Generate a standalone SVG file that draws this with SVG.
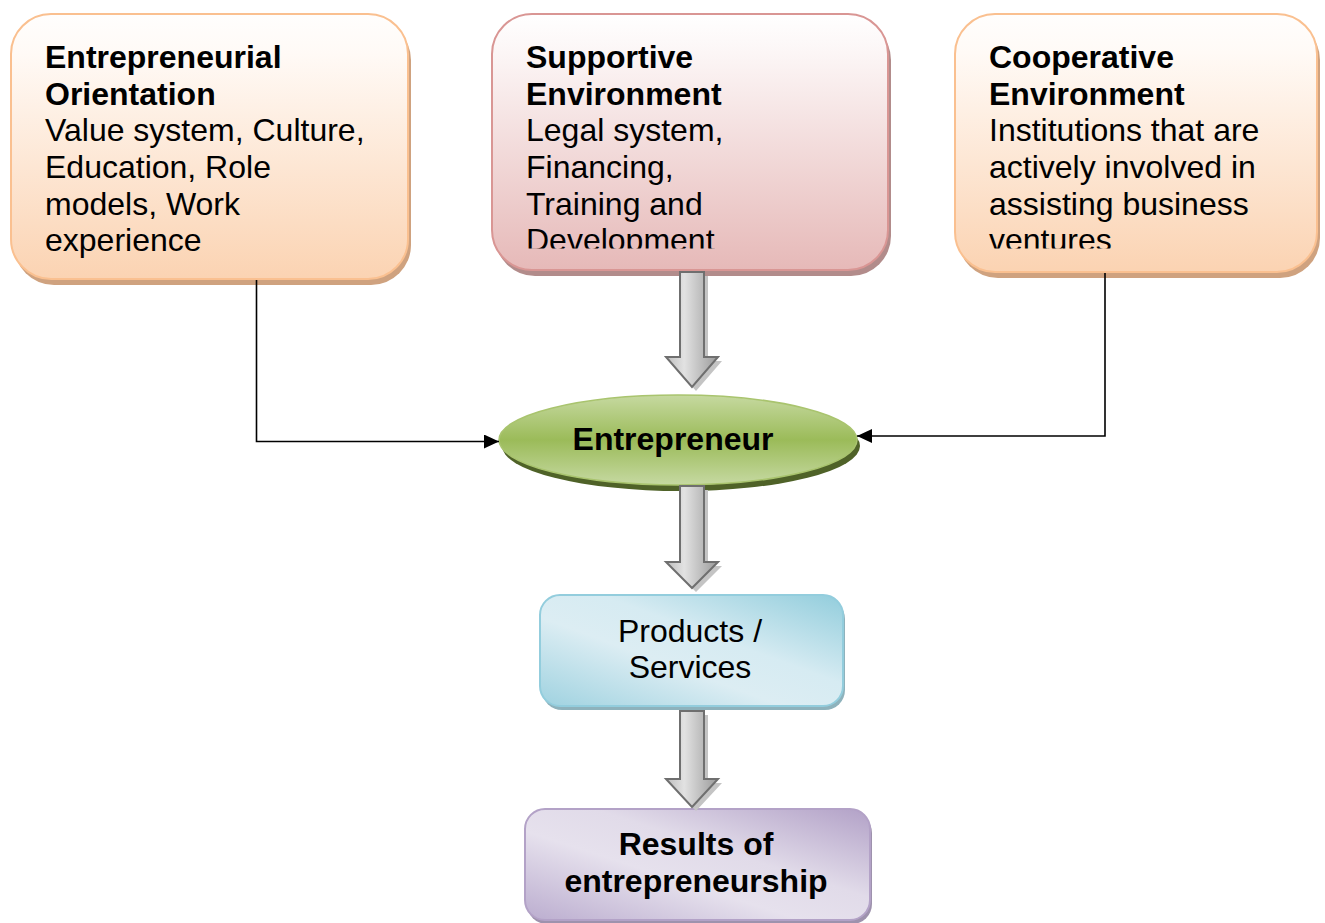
<svg xmlns="http://www.w3.org/2000/svg" width="1325" height="923" viewBox="0 0 1325 923">
  <style>
    text { font-family: "Liberation Sans", Arial, sans-serif; font-size: 32px; fill: #000; }
    .b { font-weight: bold; }
    .mid { text-anchor: middle; }
    .line { fill: none; stroke: #000; stroke-width: 1.6; }
    .block { fill: url(#gGray); stroke: #6f6f6f; stroke-width: 2; stroke-linejoin: miter; }
    .blockSh { fill: #c4c4c4; }
  </style>
  <defs>
    <linearGradient id="gOrange" x1="0" y1="0" x2="0" y2="1">
      <stop offset="0" stop-color="#fffefd"/>
      <stop offset="0.15" stop-color="#fffaf6"/>
      <stop offset="1" stop-color="#fbd3b2"/>
    </linearGradient>
    <linearGradient id="gPink" x1="0" y1="0" x2="0" y2="1">
      <stop offset="0" stop-color="#ffffff"/>
      <stop offset="0.15" stop-color="#fcf6f6"/>
      <stop offset="1" stop-color="#e6b9b8"/>
    </linearGradient>
    <linearGradient id="gGreen" x1="0" y1="0" x2="0" y2="1">
      <stop offset="0" stop-color="#c6d9a0"/>
      <stop offset="0.5" stop-color="#9bbb59"/>
      <stop offset="1" stop-color="#c6d9a2"/>
    </linearGradient>
    <linearGradient id="gBlue" x1="0" y1="1" x2="1" y2="0">
      <stop offset="0" stop-color="#9fd2e0"/>
      <stop offset="0.4" stop-color="#dcedf3"/>
      <stop offset="0.6" stop-color="#d6ebf2"/>
      <stop offset="1" stop-color="#92cddc"/>
    </linearGradient>
    <linearGradient id="gPurple" x1="0" y1="1" x2="1" y2="0">
      <stop offset="0" stop-color="#bbadcf"/>
      <stop offset="0.4" stop-color="#e6e1ed"/>
      <stop offset="0.6" stop-color="#e1dbe9"/>
      <stop offset="1" stop-color="#b2a1c7"/>
    </linearGradient>
    <linearGradient id="gGray" x1="0" y1="0" x2="1" y2="0">
      <stop offset="0" stop-color="#bdbdbd"/>
      <stop offset="0.35" stop-color="#e2e2e2"/>
      <stop offset="1" stop-color="#9a9a9a"/>
    </linearGradient>
    <clipPath id="clipText">
      <rect x="0" y="0" width="1325" height="248.5"/>
    </clipPath>
    <marker id="arr" markerUnits="userSpaceOnUse" markerWidth="16" markerHeight="14" refX="15" refY="7" orient="auto">
      <path d="M0,0 L15,7 L0,14 Z" fill="#000"/>
    </marker>
  </defs>

  <g id="node-orientation">
    <rect x="14" y="20" width="397" height="265" rx="40" fill="#cfa27f"/>
    <rect x="11" y="14" width="397" height="265" rx="40" fill="url(#gOrange)" stroke="#fac090" stroke-width="2"/>
    <text class="b" x="45" y="68">Entrepreneurial</text>
    <text class="b" x="45" y="104.5">Orientation</text>
    <text x="45" y="141">Value system, Culture,</text>
    <text x="45" y="178">Education, Role</text>
    <text x="45" y="214.5">models, Work</text>
    <text x="45" y="251">experience</text>
  </g>

  <g id="node-supportive">
    <rect x="495" y="20" width="396" height="256" rx="40" fill="#b28c8b"/>
    <rect x="492" y="14" width="396" height="256" rx="40" fill="url(#gPink)" stroke="#d99694" stroke-width="2"/>
    <g clip-path="url(#clipText)">
      <text class="b" x="526" y="68">Supportive</text>
      <text class="b" x="526" y="104.5">Environment</text>
      <text x="526" y="141">Legal system,</text>
      <text x="526" y="178">Financing,</text>
      <text x="526" y="214.5">Training and</text>
      <text x="526" y="251">Development</text>
    </g>
  </g>

  <g id="node-cooperative">
    <rect x="958" y="20" width="362" height="258" rx="40" fill="#cfa27f"/>
    <rect x="955" y="14" width="362" height="258" rx="40" fill="url(#gOrange)" stroke="#fac090" stroke-width="2"/>
    <g clip-path="url(#clipText)">
      <text class="b" x="989" y="68">Cooperative</text>
      <text class="b" x="989" y="104.5">Environment</text>
      <text x="989" y="141">Institutions that are</text>
      <text x="989" y="178">actively involved in</text>
      <text x="989" y="214.5">assisting business</text>
      <text x="989" y="251">ventures</text>
    </g>
  </g>

  <g id="node-entrepreneur">
    <ellipse cx="681" cy="446" rx="179" ry="45" fill="#4f6228"/>
    <ellipse cx="678" cy="440" rx="179" ry="45" fill="url(#gGreen)" stroke="#a9c46e" stroke-width="1.5"/>
    <text class="b mid" x="673" y="450">Entrepreneur</text>
  </g>

  <g id="node-products">
    <rect x="542" y="599" width="303" height="111" rx="20" fill="#8eb2bc"/>
    <rect x="540" y="595" width="303" height="111" rx="20" fill="url(#gBlue)" stroke="#93cddd" stroke-width="2"/>
    <text class="mid" x="690" y="642">Products /</text>
    <text class="mid" x="690" y="678">Services</text>
  </g>

  <g id="node-results">
    <rect x="527" y="813" width="345" height="111" rx="20" fill="#9e92ad"/>
    <rect x="525" y="809" width="345" height="111" rx="20" fill="url(#gPurple)" stroke="#b3a2c7" stroke-width="2"/>
    <text class="b mid" x="696" y="855">Results of</text>
    <text class="b mid" x="696" y="892">entrepreneurship</text>
  </g>

  <g id="connectors">
    <path class="line" d="M256.5,280 V441.5 H499" marker-end="url(#arr)"/>
    <path class="line" d="M1105,273 V436 H857" marker-end="url(#arr)"/>

    <path class="blockSh" d="M684,276 H708 V361 H722 L696,391 L670,361 H684 Z"/>
    <path class="block" d="M680,272 H704 V357 H718 L692,387 L666,357 H680 Z"/>

    <path class="blockSh" d="M684,490 H708 V566 H722 L696,592 L670,566 H684 Z"/>
    <path class="block" d="M680,486 H704 V562 H718 L692,588 L666,562 H680 Z"/>

    <path class="blockSh" d="M684,715 H708 V783 H722 L696,811 L670,783 H684 Z"/>
    <path class="block" d="M680,711 H704 V779 H718 L692,807 L666,779 H680 Z"/>
  </g>
</svg>
